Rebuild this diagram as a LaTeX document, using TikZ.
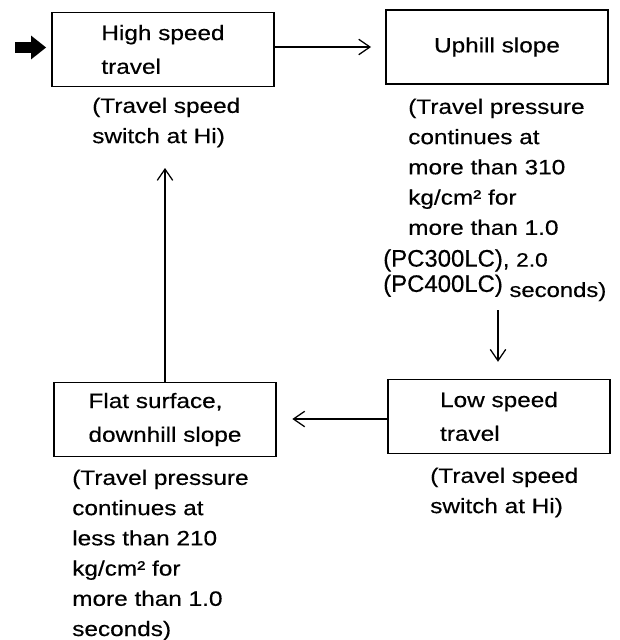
\documentclass[tikz,border=0pt]{standalone}
\usepackage{fontspec}
\setmainfont{Liberation Sans}[FakeStretch=1.17, FakeBold=0.4]
\newfontfamily\pcfont{Liberation Sans}[FakeBold=0.4]
\usetikzlibrary{positioning,arrows.meta}

\begin{document}
\begin{tikzpicture}[x=0.025cm, y=-0.025cm,
    every node/.style={font=\fontsize{14.8}{21.5}\selectfont},
    box/.style={rectangle, draw, line width=1.2pt, minimum width=5.55cm, minimum height=1.85cm,
                align=left, inner sep=0pt, font=\fontsize{14.8}{24}\selectfont},
    note/.style={anchor=north west, align=left, inner sep=0pt},
    arr/.style={line width=0.9pt, -{Straight Barb[length=8pt,width=11pt]}}]
    \useasboundingbox (0,0) rectangle (620,640);

    % Prostokąty
    \node[box] (high) at (163,49.5) {High speed\\travel};
    \node[box] (uphill) at (497,47) {Uphill slope};
    \node[box] (low) at (499,416.5) {Low speed\\travel};
    \node[box] (flat) at (165,419.5) {Flat surface,\\downhill slope};

    % Opisy
    \node[note] (highnote) at (92,97.5) {(Travel speed\\switch at Hi)};
    \node[note] (upnote) at (408,98.5) {(Travel pressure\\continues at\\more than 310\\kg/cm² for\\more than 1.0};
    \node[note, font=\pcfont\fontsize{17}{18}\selectfont] (pcnote) at (383,249)
        {(PC300LC), {\normalfont\fontsize{13.8}{14}\selectfont 2.0}\\(PC400LC) \raisebox{-3.6pt}{\normalfont\fontsize{14.5}{15}\selectfont seconds)}};
    \node[note] (lownote) at (430,467.5) {(Travel speed\\switch at Hi)};
    \node[note] (flatnote) at (72,469.5) {(Travel pressure\\continues at\\less than 210\\kg/cm² for\\more than 1.0\\seconds)};

    % Strzałki
    \coordinate (start) at (15,47.5);
    \coordinate (upend) at (498,310);
    \coordinate (hiend) at (165,168);
    \draw[line width=7.8pt, -{Triangle[length=10.7pt,width=17pt,line width=0pt]}, shorten >=3.6pt]
        (start) -- (start -| high.west);
    \draw[arr, shorten >=10pt] (high.east |- uphill.west) -- (uphill.west);
    \draw[arr, shorten >=12pt] (upend) -- (upend |- low.north);
    \draw[arr, shorten >=11pt] (low.west |- 0,419) -- (flat.east |- 0,419);
    \draw[arr] (flat.north) -- (hiend);
\end{tikzpicture}
\end{document}
